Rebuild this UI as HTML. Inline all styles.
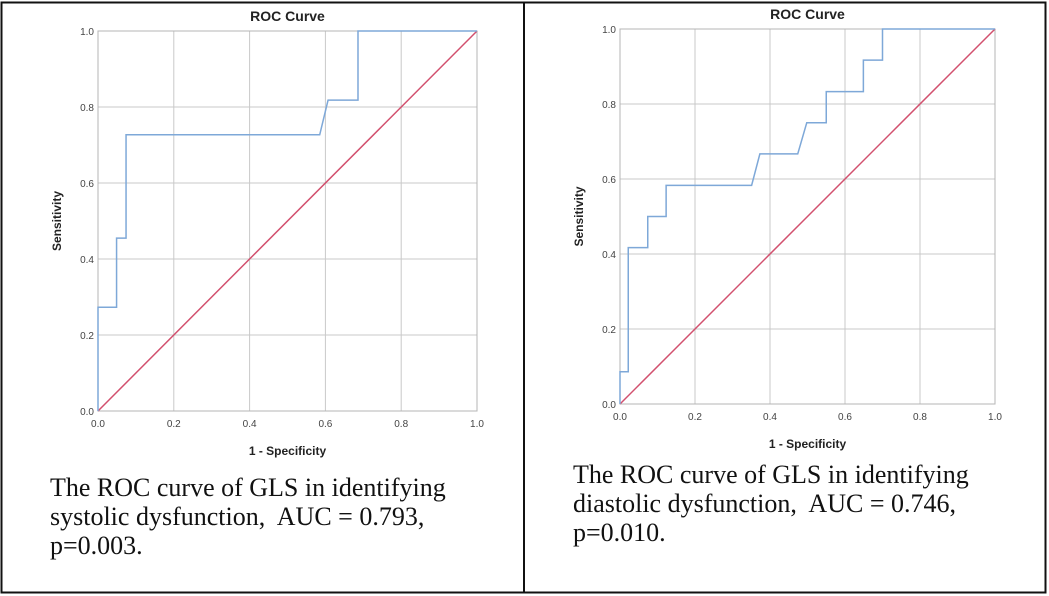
<!DOCTYPE html>
<html><head><meta charset="utf-8">
<style>
body{margin:0;background:#fff;}
svg{display:block;}
.tick{font-family:"Liberation Sans",sans-serif;font-size:10px;fill:#444;}
.ttl{font-family:"Liberation Sans",sans-serif;font-size:14px;font-weight:bold;fill:#222;}
.ax{font-family:"Liberation Sans",sans-serif;font-size:12px;font-weight:bold;fill:#222;}
.cap{font-family:"Liberation Serif",serif;font-size:26px;fill:#111;white-space:pre;}
</style></head><body>
<svg id="s" width="1049" height="596">
<rect x="1.5" y="2.5" width="1044" height="590" fill="none" stroke="#111" stroke-width="2"/>
<line x1="524" y1="2" x2="524" y2="593" stroke="#111" stroke-width="2"/>
<text class="cap" x="50" y="496">The ROC curve of GLS in identifying</text>
<text class="cap" x="50" y="525">systolic dysfunction,&#160; AUC = 0.793,</text>
<text class="cap" x="50" y="554">p=0.003.</text>
<text class="cap" x="573" y="483">The ROC curve of GLS in identifying</text>
<text class="cap" x="573" y="512">diastolic dysfunction,&#160; AUC = 0.746,</text>
<text class="cap" x="573" y="541">p=0.010.</text>
</svg>
<script>
const ticks=[0,0.2,0.4,0.6,0.8,1.0];
const tickLabels=["0.0","0.2","0.4","0.6","0.8","1.0"];
const sysFpr=[0,0,0.049,0.049,0.074,0.074,0.585,0.607,0.686,0.686,1];
const sysTpr=[0,0.273,0.273,0.455,0.455,0.727,0.727,0.818,0.818,1,1];
const diaFpr=[0,0,0.022,0.022,0.074,0.074,0.123,0.123,0.351,0.373,0.474,0.498,0.55,0.55,0.649,0.649,0.70,0.70,1];
const diaTpr=[0,0.086,0.086,0.417,0.417,0.5,0.5,0.583,0.583,0.667,0.667,0.75,0.75,0.833,0.833,0.917,0.917,1,1];
const refX=[0,1], refY=[0,1];
const NS="http://www.w3.org/2000/svg";
const svg=document.getElementById('s');
function mk(t,a){const e=document.createElementNS(NS,t);for(const k in a)e.setAttribute(k,a[k]);svg.appendChild(e);return e;}
function panel(p,fpr,tpr,key){
  const sx=v=>p.x0+v*(p.x1-p.x0), sy=v=>p.y0-v*(p.y0-p.y1);
  ticks.forEach((t,i)=>{
    let g=mk('line',{x1:sx(t),y1:p.y1,x2:sx(t),y2:p.y0,stroke:'#c9c9c9','stroke-width':1});
    
    
    g=mk('line',{x1:p.x0,y1:sy(t),x2:p.x1,y2:sy(t),stroke:'#c9c9c9','stroke-width':1});
    
    
    let tx=mk('text',{x:sx(t),y:p.y0+16,'text-anchor':'middle',class:'tick'});tx.textContent=tickLabels[i];
    
    
    tx=mk('text',{x:p.x0-4,y:sy(t)+4,'text-anchor':'end',class:'tick'});tx.textContent=tickLabels[i];
    
    
  });
  let b=mk('rect',{x:p.x0,y:p.y1,width:p.x1-p.x0,height:p.y0-p.y1,fill:'none',stroke:'#b5b5b5','stroke-width':1});
  
  
  let r=mk('polyline',{points:refX.map((v,i)=>sx(v)+','+sy(refY[i])).join(' '),fill:'none',stroke:'#d2506e','stroke-width':1.5});
  
  
  let c=mk('polyline',{points:fpr.map((v,i)=>sx(v)+','+sy(tpr[i])).join(' '),fill:'none',stroke:'#7ea8d8','stroke-width':1.5});
  
  
  let t=mk('text',{x:(p.x0+p.x1)/2,y:p.y1-10,'text-anchor':'middle',class:'ttl'});t.textContent='ROC Curve';
  
  
  let xl=mk('text',{x:(p.x0+p.x1)/2,y:p.y0+44,'text-anchor':'middle',class:'ax'});xl.textContent='1 - Specificity';
  
  
  const yc=(p.y0+p.y1)/2;
  let yl=mk('text',{x:p.x0-37,y:yc,'text-anchor':'middle',class:'ax',transform:`rotate(-90 ${p.x0-37} ${yc})`});yl.textContent='Sensitivity';
  
  
}
panel({x0:98,x1:477,y0:411,y1:31},sysFpr,sysTpr,'systolic');
panel({x0:620,x1:995,y0:404,y1:29},diaFpr,diaTpr,'diastolic');
</script>
</body></html>
